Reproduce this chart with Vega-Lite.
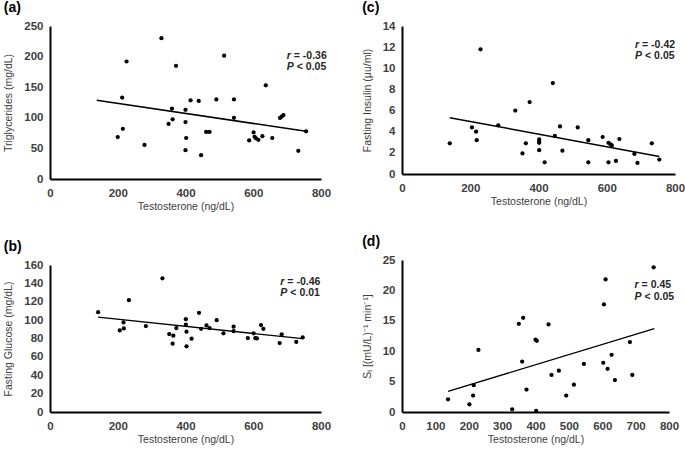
{
  "$schema": "https://vega.github.io/schema/vega-lite/v6.json",
  "padding": {"left": 3, "top": 1, "right": 5, "bottom": 5},
  "background": "white",
  "datasets": {
    "tg": [
      {"testosterone": 200, "value": 68.6}, {"testosterone": 213, "value": 133}, {"testosterone": 215, "value": 82},
      {"testosterone": 226, "value": 192}, {"testosterone": 279, "value": 55.6}, {"testosterone": 329, "value": 230},
      {"testosterone": 350, "value": 90}, {"testosterone": 360, "value": 115}, {"testosterone": 362, "value": 97.5},
      {"testosterone": 372, "value": 185}, {"testosterone": 400, "value": 113}, {"testosterone": 400, "value": 93},
      {"testosterone": 402, "value": 67}, {"testosterone": 400, "value": 47}, {"testosterone": 415, "value": 128.5},
      {"testosterone": 439, "value": 127.5}, {"testosterone": 446, "value": 39}, {"testosterone": 461, "value": 77},
      {"testosterone": 471, "value": 77}, {"testosterone": 491, "value": 130}, {"testosterone": 514, "value": 201.5},
      {"testosterone": 543, "value": 130}, {"testosterone": 543, "value": 100}, {"testosterone": 588, "value": 63},
      {"testosterone": 601, "value": 76}, {"testosterone": 604, "value": 69}, {"testosterone": 608, "value": 66.5},
      {"testosterone": 615, "value": 64}, {"testosterone": 627, "value": 70}, {"testosterone": 637, "value": 153},
      {"testosterone": 656, "value": 67}, {"testosterone": 679, "value": 99.7}, {"testosterone": 684, "value": 102},
      {"testosterone": 689, "value": 104.5}, {"testosterone": 733, "value": 46}, {"testosterone": 756, "value": 78}
    ],
    "glu": [
      {"testosterone": 142, "value": 108.7}, {"testosterone": 206, "value": 88.8}, {"testosterone": 217, "value": 97.5},
      {"testosterone": 218, "value": 91}, {"testosterone": 233, "value": 121.7}, {"testosterone": 283, "value": 93.5},
      {"testosterone": 332, "value": 145.5}, {"testosterone": 352, "value": 84.8}, {"testosterone": 362, "value": 74.4},
      {"testosterone": 364, "value": 83}, {"testosterone": 373, "value": 91.3}, {"testosterone": 401, "value": 101},
      {"testosterone": 401, "value": 95}, {"testosterone": 403, "value": 87.4}, {"testosterone": 403, "value": 71.5},
      {"testosterone": 418, "value": 79.8}, {"testosterone": 440, "value": 108}, {"testosterone": 446, "value": 90.6},
      {"testosterone": 462, "value": 94.2}, {"testosterone": 471, "value": 91.3}, {"testosterone": 492, "value": 100},
      {"testosterone": 512, "value": 85.6}, {"testosterone": 542, "value": 92.8}, {"testosterone": 542, "value": 88},
      {"testosterone": 584, "value": 80.5}, {"testosterone": 601, "value": 85.6}, {"testosterone": 606, "value": 80.5},
      {"testosterone": 611, "value": 80.1}, {"testosterone": 623, "value": 94.6}, {"testosterone": 630, "value": 90.6},
      {"testosterone": 678, "value": 75}, {"testosterone": 684, "value": 84.5}, {"testosterone": 727, "value": 76.2},
      {"testosterone": 746, "value": 81.2}
    ],
    "ins": [
      {"testosterone": 140, "value": 2.9}, {"testosterone": 205, "value": 4.4}, {"testosterone": 217, "value": 4.0},
      {"testosterone": 219, "value": 3.2}, {"testosterone": 230, "value": 11.8}, {"testosterone": 282, "value": 4.6},
      {"testosterone": 332, "value": 6.0}, {"testosterone": 353, "value": 1.94}, {"testosterone": 363, "value": 2.9},
      {"testosterone": 374, "value": 6.8}, {"testosterone": 402, "value": 3.27}, {"testosterone": 402, "value": 3.05},
      {"testosterone": 402, "value": 2.95}, {"testosterone": 402, "value": 2.25}, {"testosterone": 418, "value": 1.1},
      {"testosterone": 442, "value": 8.6}, {"testosterone": 448, "value": 3.6}, {"testosterone": 463, "value": 4.5},
      {"testosterone": 470, "value": 2.2}, {"testosterone": 515, "value": 4.4}, {"testosterone": 546, "value": 3.2},
      {"testosterone": 546, "value": 1.1}, {"testosterone": 588, "value": 3.5}, {"testosterone": 605, "value": 2.95},
      {"testosterone": 605, "value": 1.1}, {"testosterone": 611, "value": 2.8}, {"testosterone": 615, "value": 2.7},
      {"testosterone": 627, "value": 1.24}, {"testosterone": 637, "value": 3.3}, {"testosterone": 681, "value": 1.9},
      {"testosterone": 690, "value": 1.05}, {"testosterone": 732, "value": 2.9}, {"testosterone": 754, "value": 1.37}
    ],
    "si": [
      {"testosterone": 138, "value": 2.08}, {"testosterone": 202, "value": 1.26}, {"testosterone": 213, "value": 2.7},
      {"testosterone": 215, "value": 4.4}, {"testosterone": 229, "value": 10.2}, {"testosterone": 330, "value": 0.44},
      {"testosterone": 350, "value": 14.5}, {"testosterone": 363, "value": 15.5}, {"testosterone": 360, "value": 8.3},
      {"testosterone": 373, "value": 3.7}, {"testosterone": 400, "value": 11.9}, {"testosterone": 404, "value": 11.7},
      {"testosterone": 402, "value": 0.2}, {"testosterone": 439, "value": 14.4}, {"testosterone": 448, "value": 6.1},
      {"testosterone": 470, "value": 6.8}, {"testosterone": 492, "value": 2.7}, {"testosterone": 515, "value": 4.5},
      {"testosterone": 545, "value": 7.9}, {"testosterone": 603, "value": 8.1}, {"testosterone": 605, "value": 17.7},
      {"testosterone": 610, "value": 21.8}, {"testosterone": 616, "value": 7.1}, {"testosterone": 628, "value": 9.4},
      {"testosterone": 638, "value": 5.25}, {"testosterone": 683, "value": 11.5}, {"testosterone": 690, "value": 6.1},
      {"testosterone": 754, "value": 23.8}
    ],
    "fits": [
      {"panel": "a", "testosterone": 138, "value": 128.5}, {"panel": "a", "testosterone": 756, "value": 78},
      {"panel": "b", "testosterone": 142, "value": 103.2}, {"panel": "b", "testosterone": 746, "value": 79.8},
      {"panel": "c", "testosterone": 140, "value": 5.33}, {"panel": "c", "testosterone": 754, "value": 1.65},
      {"panel": "d", "testosterone": 138, "value": 3.4}, {"panel": "d", "testosterone": 756, "value": 13.7}
    ]
  },
  "spacing": 31,
  "hconcat": [
    {
      "spacing": 28,
      "vconcat": [
        {
          "title": {"text": "(a)"},
          "width": 271, "height": 153,
          "layer": [
            {
              "data": {"name": "tg"},
              "mark": {"type": "circle", "color": "#000", "size": 18, "opacity": 1},
              "encoding": {
                "x": {"field": "testosterone", "type": "quantitative", "scale": {"domain": [0, 800], "nice": false},
                      "axis": {"values": [0, 200, 400, 600, 800], "tickCount": 30, "format": "d", "title": "Testosterone (ng/dL)"}},
                "y": {"field": "value", "type": "quantitative", "scale": {"domain": [0, 250], "nice": false},
                      "axis": {"values": [0, 50, 100, 150, 200, 250], "tickCount": 30, "format": "d", "title": "Triglycerides (mg/dL)"}}
              }
            },
            {
              "data": {"name": "fits"},
              "transform": [{"filter": "datum.panel === 'a'"}],
              "mark": {"type": "line", "color": "#000", "strokeWidth": 1.5},
              "encoding": {"x": {"field": "testosterone", "type": "quantitative"}, "y": {"field": "value", "type": "quantitative"}}
            },
            {"data": {"values": [{}]}, "mark": {"type": "text", "text": "r", "fontStyle": "italic", "align": "left", "baseline": "middle"},
             "encoding": {"x": {"datum": 699}, "y": {"datum": 201.5}}},
            {"data": {"values": [{}]}, "mark": {"type": "text", "text": "= -0.36", "align": "left", "baseline": "middle", "dx": 7},
             "encoding": {"x": {"datum": 699}, "y": {"datum": 201.5}}},
            {"data": {"values": [{}]}, "mark": {"type": "text", "text": "P", "fontStyle": "italic", "align": "left", "baseline": "middle"},
             "encoding": {"x": {"datum": 699}, "y": {"datum": 183.5}}},
            {"data": {"values": [{}]}, "mark": {"type": "text", "text": "< 0.05", "align": "left", "baseline": "middle", "dx": 10},
             "encoding": {"x": {"datum": 699}, "y": {"datum": 183.5}}}
          ]
        },
        {
          "title": {"text": "(b)"},
          "width": 271, "height": 147,
          "layer": [
            {
              "data": {"name": "glu"},
              "mark": {"type": "circle", "color": "#000", "size": 18, "opacity": 1},
              "encoding": {
                "x": {"field": "testosterone", "type": "quantitative", "scale": {"domain": [0, 800], "nice": false},
                      "axis": {"values": [0, 200, 400, 600, 800], "tickCount": 30, "format": "d", "title": "Testosterone (ng/dL)"}},
                "y": {"field": "value", "type": "quantitative", "scale": {"domain": [0, 160], "nice": false},
                      "axis": {"values": [0, 20, 40, 60, 80, 100, 120, 140, 160], "tickCount": 30, "format": "d", "title": "Fasting Glucose (mg/dL)"}}
              }
            },
            {
              "data": {"name": "fits"},
              "transform": [{"filter": "datum.panel === 'b'"}],
              "mark": {"type": "line", "color": "#000", "strokeWidth": 1.3},
              "encoding": {"x": {"field": "testosterone", "type": "quantitative"}, "y": {"field": "value", "type": "quantitative"}}
            },
            {"data": {"values": [{}]}, "mark": {"type": "text", "text": "r", "fontStyle": "italic", "align": "left", "baseline": "middle"},
             "encoding": {"x": {"datum": 680}, "y": {"datum": 141.9}}},
            {"data": {"values": [{}]}, "mark": {"type": "text", "text": "= -0.46", "align": "left", "baseline": "middle", "dx": 7},
             "encoding": {"x": {"datum": 680}, "y": {"datum": 141.9}}},
            {"data": {"values": [{}]}, "mark": {"type": "text", "text": "P", "fontStyle": "italic", "align": "left", "baseline": "middle"},
             "encoding": {"x": {"datum": 680}, "y": {"datum": 129.2}}},
            {"data": {"values": [{}]}, "mark": {"type": "text", "text": "< 0.01", "align": "left", "baseline": "middle", "dx": 10},
             "encoding": {"x": {"datum": 680}, "y": {"datum": 129.2}}}
          ]
        }
      ]
    },
    {
      "spacing": 28,
      "vconcat": [
        {
          "title": {"text": "(c)"},
          "width": 273, "height": 148,
          "layer": [
            {
              "data": {"name": "ins"},
              "mark": {"type": "circle", "color": "#000", "size": 18, "opacity": 1},
              "encoding": {
                "x": {"field": "testosterone", "type": "quantitative", "scale": {"domain": [0, 800], "nice": false},
                      "axis": {"values": [0, 200, 400, 600, 800], "tickCount": 30, "format": "d", "title": "Testosterone (ng/dL)"}},
                "y": {"field": "value", "type": "quantitative", "scale": {"domain": [0, 14], "nice": false},
                      "axis": {"values": [0, 2, 4, 6, 8, 10, 12, 14], "tickCount": 30, "format": "d", "title": "Fasting Insulin (μu/ml)"}}
              }
            },
            {
              "data": {"name": "fits"},
              "transform": [{"filter": "datum.panel === 'c'"}],
              "mark": {"type": "line", "color": "#000", "strokeWidth": 1.5},
              "encoding": {"x": {"field": "testosterone", "type": "quantitative"}, "y": {"field": "value", "type": "quantitative"}}
            },
            {"data": {"values": [{}]}, "mark": {"type": "text", "text": "r", "fontStyle": "italic", "align": "left", "baseline": "middle"},
             "encoding": {"x": {"datum": 683}, "y": {"datum": 12.2}}},
            {"data": {"values": [{}]}, "mark": {"type": "text", "text": "= -0.42", "align": "left", "baseline": "middle", "dx": 7},
             "encoding": {"x": {"datum": 683}, "y": {"datum": 12.2}}},
            {"data": {"values": [{}]}, "mark": {"type": "text", "text": "P", "fontStyle": "italic", "align": "left", "baseline": "middle"},
             "encoding": {"x": {"datum": 683}, "y": {"datum": 11.17}}},
            {"data": {"values": [{}]}, "mark": {"type": "text", "text": "< 0.05", "align": "left", "baseline": "middle", "dx": 10},
             "encoding": {"x": {"datum": 683}, "y": {"datum": 11.17}}}
          ]
        },
        {
          "title": {"text": "(d)"},
          "width": 267, "height": 152,
          "layer": [
            {
              "data": {"name": "si"},
              "mark": {"type": "circle", "color": "#000", "size": 18, "opacity": 1},
              "encoding": {
                "x": {"field": "testosterone", "type": "quantitative", "scale": {"domain": [0, 800], "nice": false},
                      "axis": {"values": [0, 100, 200, 300, 400, 500, 600, 700, 800], "tickCount": 30, "format": "d", "title": "Testosterone (ng/dL)"}},
                "y": {"field": "value", "type": "quantitative", "scale": {"domain": [0, 25], "nice": false},
                      "axis": {"values": [0, 5, 10, 15, 20, 25], "tickCount": 30, "format": "d", "title": "Sᵢ [(mU/L)⁻¹ min⁻¹]"}}
              }
            },
            {
              "data": {"name": "fits"},
              "transform": [{"filter": "datum.panel === 'd'"}],
              "mark": {"type": "line", "color": "#000", "strokeWidth": 1.3},
              "encoding": {"x": {"field": "testosterone", "type": "quantitative"}, "y": {"field": "value", "type": "quantitative"}}
            },
            {"data": {"values": [{}]}, "mark": {"type": "text", "text": "r", "fontStyle": "italic", "align": "left", "baseline": "middle"},
             "encoding": {"x": {"datum": 697}, "y": {"datum": 20.84}}},
            {"data": {"values": [{}]}, "mark": {"type": "text", "text": "= 0.45", "align": "left", "baseline": "middle", "dx": 7},
             "encoding": {"x": {"datum": 697}, "y": {"datum": 20.84}}},
            {"data": {"values": [{}]}, "mark": {"type": "text", "text": "P", "fontStyle": "italic", "align": "left", "baseline": "middle"},
             "encoding": {"x": {"datum": 697}, "y": {"datum": 18.98}}},
            {"data": {"values": [{}]}, "mark": {"type": "text", "text": "< 0.05", "align": "left", "baseline": "middle", "dx": 10},
             "encoding": {"x": {"datum": 697}, "y": {"datum": 18.98}}}
          ]
        }
      ]
    }
  ],
  "config": {
    "view": {"stroke": null},
    "font": "Liberation Sans",
    "text": {"font": "Liberation Sans", "fontSize": 10.5, "fontWeight": "bold", "color": "#262626"},
    "axis": {
      "grid": false, "ticks": false,
      "domainColor": "#000", "domainWidth": 2,
      "labelOverlap": false, "labelBound": false,
      "labelFont": "Liberation Sans", "labelFontWeight": "bold", "labelFontSize": 11.5, "labelColor": "#404040",
      "titleFont": "Liberation Sans", "titleFontWeight": "normal", "titleFontSize": 10.5, "titleColor": "#404040"
    },
    "axisX": {"labelPadding": 8, "titlePadding": 3, "labelFlush": false},
    "axisY": {"labelPadding": 7, "titlePadding": 10},
    "title": {"anchor": "start", "frame": "bounds", "font": "Liberation Sans", "fontSize": 14, "fontWeight": "bold", "color": "#000", "offset": 5}
  }
}
